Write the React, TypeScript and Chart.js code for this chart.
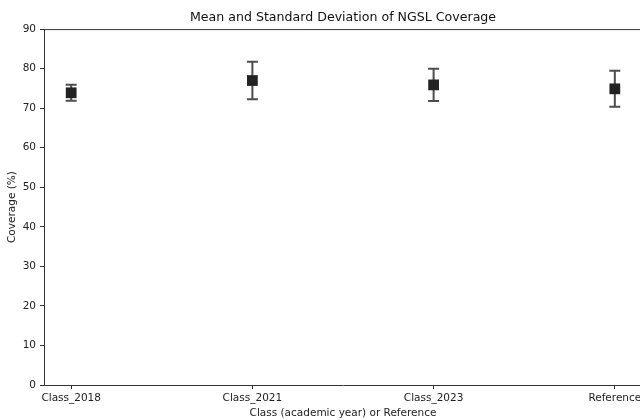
import React, { useEffect, useRef } from 'react';
import { Chart, registerables } from 'chart.js';

Chart.register(...registerables);

const categories = ['Class_2018', 'Class_2021', 'Class_2023', 'Reference'];
const means = [73.9, 77.0, 75.9, 74.9];
const stds = [2.0, 4.75, 4.1, 4.55];
const yTickValues = [0, 10, 20, 30, 40, 50, 60, 70, 80, 90];
const titleText = 'Mean and Standard Deviation of NGSL Coverage';

const FONT = 'DejaVu Sans';

const errorBarPlugin = {
  id: 'errorBars',
  beforeDatasetsDraw(chart: any) {
    const { ctx, scales } = chart;
    const xs = scales.x;
    const ys = scales.y;
    ctx.save();
    ctx.strokeStyle = '#4d4d4d';
    ctx.lineWidth = 2;
    const cap = 5.5;
    means.forEach((m, i) => {
      const x = xs.getPixelForValue(i);
      const yt = ys.getPixelForValue(m + stds[i]);
      const yb = ys.getPixelForValue(m - stds[i]);
      ctx.beginPath();
      ctx.moveTo(x, yt);
      ctx.lineTo(x, yb);
      ctx.moveTo(x - cap, yt);
      ctx.lineTo(x + cap, yt);
      ctx.moveTo(x - cap, yb);
      ctx.lineTo(x + cap, yb);
      ctx.stroke();
    });
    ctx.restore();
  },
};

const spinePlugin = {
  id: 'spines',
  afterDraw(chart: any) {
    const { ctx, chartArea } = chart;
    ctx.save();
    ctx.strokeStyle = '#333';
    ctx.lineWidth = 1;
    ctx.beginPath();
    ctx.moveTo(chartArea.left, chartArea.top + 0.5);
    ctx.lineTo(chartArea.right, chartArea.top + 0.5);
    ctx.stroke();
    // title centred over the axes, as in the reference
    ctx.fillStyle = '#111';
    ctx.font = `12.6px "${FONT}"`;
    ctx.textAlign = 'center';
    ctx.textBaseline = 'middle';
    ctx.fillText(titleText, (chartArea.left + chartArea.right) / 2, 18);
    ctx.restore();
  },
};

export default function App() {
  const ref = useRef<HTMLCanvasElement | null>(null);

  useEffect(() => {
    if (!ref.current) return;
    const chart = new Chart(ref.current, {
      type: 'scatter',
      data: {
        datasets: [
          {
            label: 'Mean',
            data: means.map((m, i) => ({ x: i, y: m })),
            pointStyle: 'rect',
            pointRadius: 7.6,
            pointHoverRadius: 7.6,
            backgroundColor: '#222222',
            borderColor: '#222222',
            borderWidth: 0,
          },
        ],
      },
      options: {
        animation: false,
        responsive: false,
        maintainAspectRatio: false,
        layout: { padding: { left: 0, right: 18, top: 0, bottom: 0 } },
        plugins: {
          legend: { display: false },
          tooltip: { enabled: false },
          title: {
            display: true,
            text: titleText,
            color: 'rgba(0,0,0,0)',
            font: { family: FONT, size: 12.6, weight: 'normal' },
            padding: { top: 10.5, bottom: 3.5 },
          },
        },
        scales: {
          x: {
            type: 'linear',
            min: -0.15,
            max: 3.15,
            afterBuildTicks(scale: any) {
              scale.ticks = [0, 1, 2, 3].map((v) => ({ value: v }));
            },
            afterFit(scale: any) {
              scale.height = 35;
            },
            ticks: {
              autoSkip: false,
              maxRotation: 0,
              padding: 3,
              color: '#222',
              font: { family: FONT, size: 10.5 },
              callback: (v: any) => categories[Number(v)] ?? '',
            },
            grid: {
              display: true,
              drawOnChartArea: false,
              drawTicks: true,
              tickLength: 4,
              color: '#333',
            },
            border: { display: true, color: '#333', width: 1 },
            title: {
              display: true,
              text: 'Class (academic year) or Reference',
              color: '#222',
              font: { family: FONT, size: 10.5 },
              padding: { top: 0, bottom: 0.5 },
            },
          },
          y: {
            type: 'linear',
            min: 0,
            max: 90,
            afterBuildTicks(scale: any) {
              scale.ticks = yTickValues.map((v) => ({ value: v }));
            },
            afterFit(scale: any) {
              scale.width = 44;
            },
            ticks: {
              padding: 4,
              color: '#222',
              font: { family: FONT, size: 10.5 },
            },
            grid: {
              display: true,
              drawOnChartArea: false,
              drawTicks: true,
              tickLength: 4,
              color: '#333',
            },
            border: { display: true, color: '#333', width: 1 },
            title: {
              display: true,
              text: 'Coverage (%)',
              color: '#222',
              font: { family: FONT, size: 10.5 },
              padding: { top: 6, bottom: 0 },
            },
          },
        },
      },
      plugins: [errorBarPlugin, spinePlugin],
    } as any);
    return () => chart.destroy();
  }, []);

  return (
    <div
      style={{
        position: 'fixed',
        left: 0,
        top: 0,
        width: 640,
        height: 420,
        overflow: 'hidden',
        background: '#fff',
      }}
    >
      <canvas ref={ref} width={660} height={420} style={{ width: 660, height: 420, display: 'block' }} />
    </div>
  );
}
